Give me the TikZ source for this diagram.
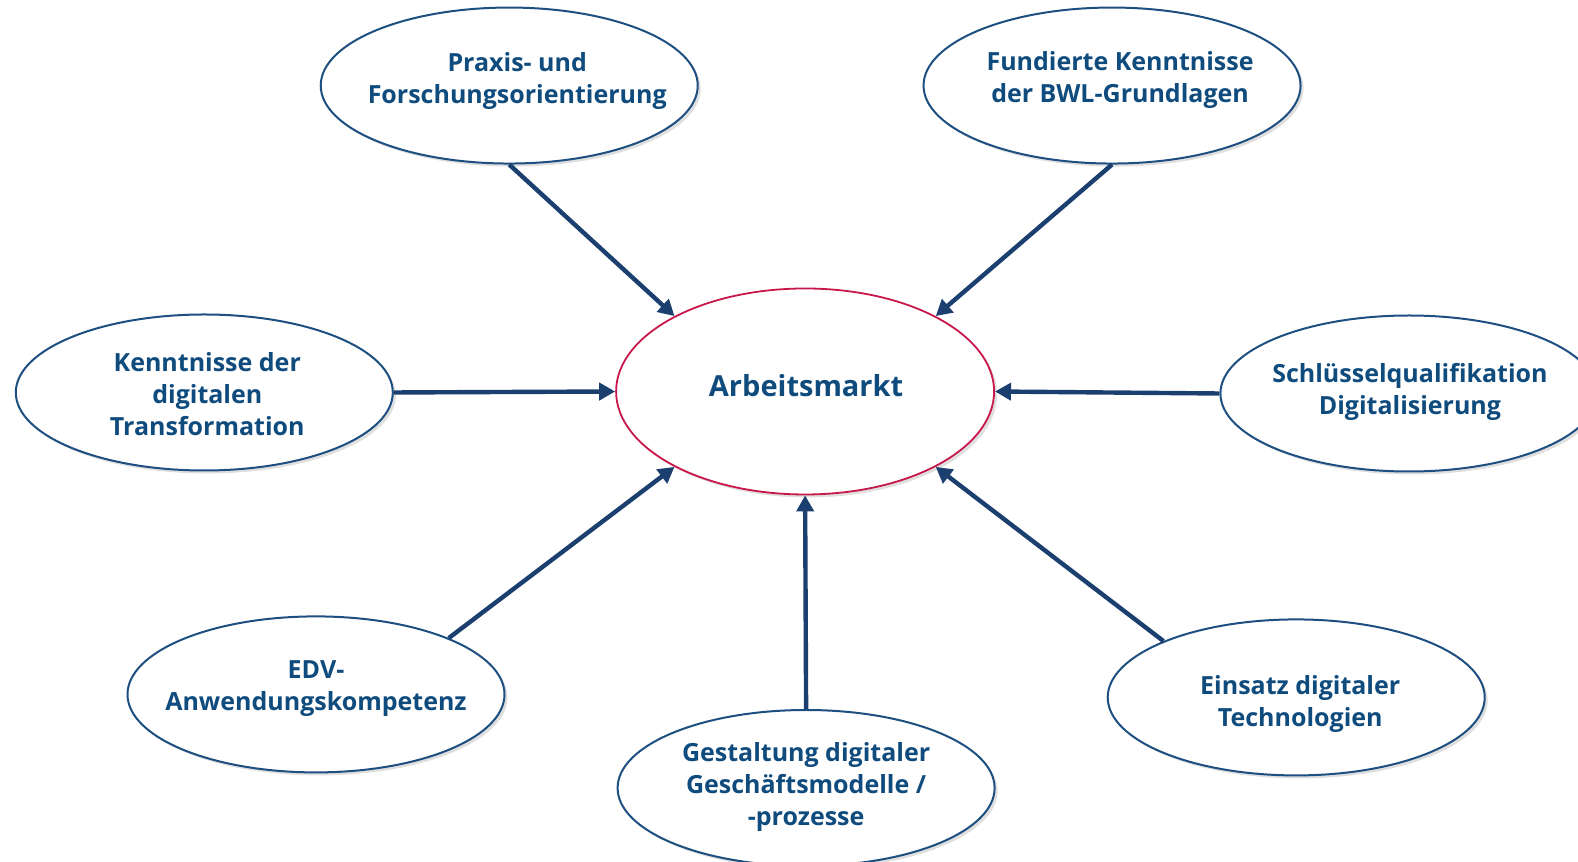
\documentclass[tikz,border=0pt]{standalone}
\usepackage{fontspec}
\setmainfont{Open Sans}[BoldFont={* Bold}]
\usetikzlibrary{shapes.geometric,arrows.meta,shadows}
\definecolor{navy}{HTML}{1D4F80}
\definecolor{arrowc}{HTML}{1B3F6E}
\definecolor{txt}{HTML}{0F4C7D}
\definecolor{crim}{HTML}{C8174A}
\newcommand\txt[3]{\raisebox{#2}[\height][\depth]{\hspace*{#1}\begin{tabular}{@{}c@{}}#3\end{tabular}\hspace*{-#1}}}
\tikzset{
  outer/.style={ellipse, draw=navy, line width=2pt, fill=white, minimum width=377pt, minimum height=156pt, inner xsep=-80pt, inner ysep=0pt, text=txt, font=\fontsize{25}{32}\selectfont\bfseries, drop shadow={shadow xshift=3pt, shadow yshift=-3pt, opacity=0.25, fill=gray}},
  centre/.style={ellipse, draw=crim, line width=1.8pt, fill=white, minimum width=378pt, minimum height=206pt, inner xsep=-40pt, inner ysep=0pt, text=txt, font=\fontsize{29}{34}\selectfont\bfseries, drop shadow={shadow xshift=3pt, shadow yshift=-3pt, opacity=0.25, fill=gray}},
  conn/.style={draw=arrowc, line width=4.4pt, -{Triangle[length=16pt,width=17pt]}}
}
\begin{document}
\begin{tikzpicture}[x=1.00638pt,y=-1.00638pt]
\useasboundingbox (0,0) rectangle (1568,856.5);
\node[centre] (c) at (800,389) {\txt{1pt}{2pt}{Arbeitsmarkt}};
\node[outer] (p) at (506,85) {\txt{8pt}{4pt}{Praxis- und\\Forschungsorientierung}};
\node[outer] (f) at (1105,85) {\txt{8pt}{5pt}{Fundierte Kenntnisse\\der BWL-Grundlagen}};
\node[outer] (k) at (203,390) {\txt{3pt}{-5pt}{Kenntnisse der\\digitalen\\Transformation}};
\node[outer] (s) at (1400,391) {\txt{1pt}{1pt}{Schlüsselqualifikation\\Digitalisierung}};
\node[outer] (e) at (314,690) {\txt{0pt}{6pt}{EDV-\\Anwendungskompetenz}};
\node[outer] (g) at (801,783) {\txt{0pt}{1pt}{Gestaltung digitaler\\Geschäftsmodelle /\\-prozesse}};
\node[outer] (t) at (1288,693) {\txt{4pt}{-7pt}{Einsatz digitaler\\Technologien}};
\draw[conn] (p.south) -- (c.150);
\draw[conn] (f.south) -- (c.30);
\draw[conn] (k.east) -- (c.west);
\draw[conn] (s.west) -- (c.east);
\draw[conn] (e.23) -- (c.210);
\draw[conn] (g.north) -- (c.south);
\draw[conn] (t.157) -- (c.330);
\end{tikzpicture}
\end{document}
